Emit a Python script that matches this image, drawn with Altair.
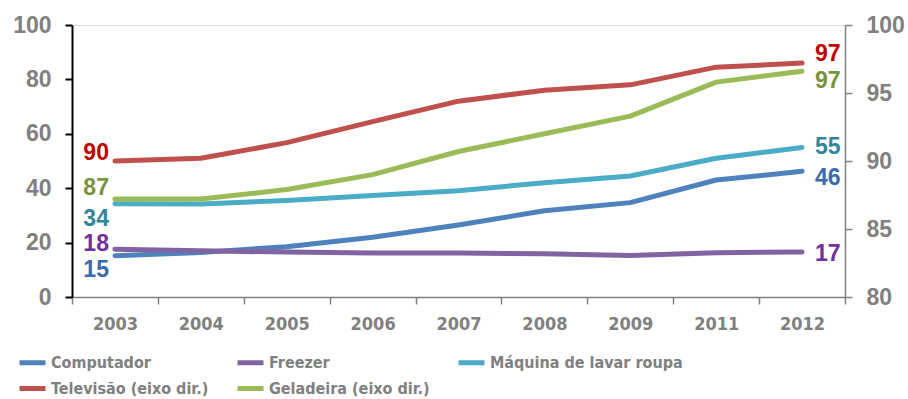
import altair as alt
import pandas as pd

years = ["2003", "2004", "2005", "2006", "2007", "2008", "2009", "2011", "2012"]

series_names = [
    "Computador",
    "Freezer",
    "Máquina de lavar roupa",
    "Televisão (eixo dir.)",
    "Geladeira (eixo dir.)",
]
computador = [15.2, 16.4, 18.5, 22.0, 26.5, 31.7, 34.7, 43.0, 46.2]
freezer = [17.6, 17.0, 16.5, 16.2, 16.2, 15.9, 15.3, 16.3, 16.5]
maquina = [34.3, 34.2, 35.5, 37.3, 39.1, 42.0, 44.5, 51.0, 55.0]
televisao = [90.0, 90.2, 91.35, 92.9, 94.4, 95.2, 95.6, 96.9, 97.2]
geladeira = [87.2, 87.2, 87.9, 89.0, 90.7, 92.0, 93.3, 95.8, 96.6]

first_labels = ["15", "18", "34", "90", "87"]
last_labels = ["46", "17", "55", "97", "97"]

all_values = [computador, freezer, maquina, televisao, geladeira]

rows = []
for name, vals, fl, ll in zip(series_names, all_values, first_labels, last_labels):
    for i, (yr, v) in enumerate(zip(years, vals)):
        lab = fl if i == 0 else (ll if i == len(years) - 1 else "")
        rows.append({"ano": yr, "serie": name, "valor": v, "rotulo": lab})
df = pd.DataFrame(rows)

# styles
line_colors = ["#4F81BD", "#8064A2", "#4BACC6", "#C0504D", "#9BBB59"]
label_colors = ["#3A6BAE", "#7030A0", "#31859C", "#C00000", "#77933C"]
left_dy = [14, -5, 15, -8, -11]
right_dy = [6.5, 2, 0, -9, 10]
GRAY = "#808080"
NARROW = "DejaVu Sans Condensed"
WIDE = "Liberation Sans"

x_enc = alt.X(
    "ano:O",
    sort=years,
    scale=alt.Scale(type="band", paddingInner=0, paddingOuter=0),
    bandPosition=0.5,
    axis=alt.Axis(
        title=None, labelAngle=0, labelFont=NARROW, labelFontSize=18,
        labelFontWeight="bold", labelColor=GRAY, domainColor=GRAY,
        domainWidth=1.5, tickColor=GRAY, tickWidth=1.5, tickSize=7,
        tickBand="extent", labelPadding=11, grid=False,
    ),
)

y_left = alt.Y(
    "valor:Q",
    scale=alt.Scale(domain=[0, 100], nice=False, zero=False),
    axis=alt.Axis(
        orient="left", title=None, values=[0, 20, 40, 60, 80, 100],
        labelFont=WIDE, labelFontSize=23, labelFontWeight="bold",
        labelColor=GRAY, domainColor="#000000", domainWidth=2,
        tickColor="#000000", tickWidth=2, tickSize=7, labelPadding=14,
        grid=False,
    ),
)
y_right = alt.Y(
    "valor:Q",
    scale=alt.Scale(domain=[80, 100], nice=False, zero=False),
    axis=alt.Axis(
        orient="right", title=None, values=[80, 85, 90, 95, 100],
        labelFont=WIDE, labelFontSize=23, labelFontWeight="bold",
        labelColor=GRAY, domainColor=GRAY, domainWidth=1.5,
        tickColor=GRAY, tickWidth=1.5, tickSize=7, labelPadding=14,
        grid=False,
    ),
)

color_enc = alt.Color(
    "serie:N",
    scale=alt.Scale(domain=series_names, range=line_colors),
    sort=series_names,
    legend=alt.Legend(
        title=None, orient="none", legendX=-55, legendY=322, columns=3,
        direction="horizontal",
        symbolType="stroke", symbolStrokeWidth=5, symbolSize=676,
        labelFont=NARROW, labelFontSize=16, labelFontWeight="bold",
        labelColor=GRAY, columnPadding=18, rowPadding=0, labelOffset=3,
        padding=0, labelLimit=400,
    ),
)


def group(idx, y_enc):
    names = [series_names[i] for i in idx]
    lines = (
        alt.Chart(df)
        .transform_filter(alt.FieldOneOfPredicate(field="serie", oneOf=names))
        .mark_line(strokeWidth=5, strokeCap="round", strokeJoin="round")
        .encode(x=x_enc, y=y_enc, color=color_enc)
    )
    layers = [lines]
    for i in idx:
        name = series_names[i]
        first = (
            alt.Chart(df)
            .transform_filter((alt.datum.serie == name) & (alt.datum.ano == years[0]))
            .mark_text(align="right", baseline="middle", dx=-6, dy=left_dy[i],
                       font=WIDE, fontSize=23, fontWeight="bold",
                       color=label_colors[i])
            .encode(x=x_enc, y=y_enc, text="rotulo:N")
        )
        last = (
            alt.Chart(df)
            .transform_filter((alt.datum.serie == name) & (alt.datum.ano == years[-1]))
            .mark_text(align="left", baseline="middle", dx=13, dy=right_dy[i],
                       font=WIDE, fontSize=23, fontWeight="bold",
                       color=label_colors[i])
            .encode(x=x_enc, y=y_enc, text="rotulo:N")
        )
        layers += [first, last]
    return alt.layer(*layers)


left = group([0, 1, 2], y_left)
right = group([3, 4], y_right)

chart = (
    alt.layer(left, right)
    .resolve_scale(y="independent")
    .properties(
        width=773,
        height=272,
        autosize=alt.AutoSizeParams(type="none"),
        padding={"left": 72, "top": 25, "right": 63, "bottom": 102},
    )
    .configure_view(stroke=None)
    .configure(background="white")
)

chart.save("out.html", embed_options={"renderer": "svg", "actions": False})
